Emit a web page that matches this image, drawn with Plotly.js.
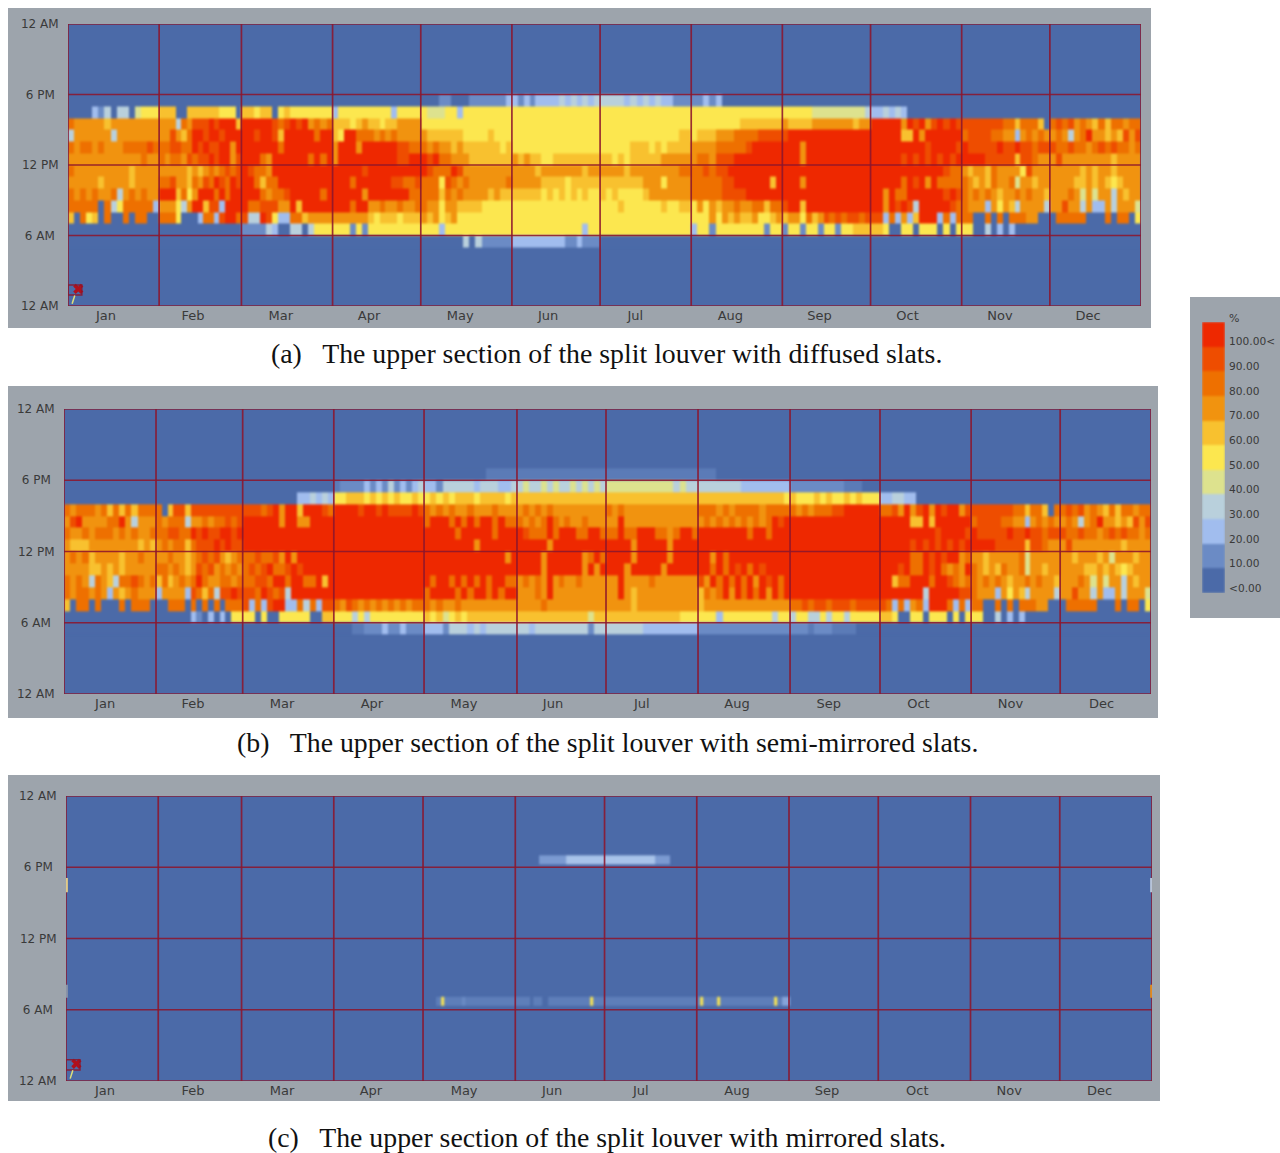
<!DOCTYPE html>
<html><head><meta charset="utf-8">
<script src="https://cdn.plot.ly/plotly-3.0.1.min.js"></script>
<style>html,body{margin:0;padding:0;background:#fff}#c{width:1280px;height:1153px}
#c .heatmaplayer image{filter:blur(0.8px)}</style>
</head><body><div id="c"></div>
<script>
const months=['Jan','Feb','Mar','Apr','May','Jun','Jul','Aug','Sep','Oct','Nov','Dec'];
const monthDays=[31,28,31,30,31,30,31,31,30,31,30,31];
const monthStartsB=[0,30.9,60,90.6,120.9,152.1,182,212.9,243.8,274,304.6,334.5,365];
const monthLabelDayA=[12.9,42.5,72.4,102.4,133.4,163.3,193,225.3,255.6,285.6,317,347];
const monthLabelDayB=[13.8,43.3,73.2,103.4,134.3,164.2,194,226,256.8,286.9,317.8,348.4];
const monthLabelDayC=[13.1,42.7,72.6,102.5,133.8,163.4,193.2,225.5,255.8,286.1,317,347.4];
const hourTicks=[0,6,12,18,24];
const hourLabels=['12 AM','6 AM\u00a0','12 PM','6 PM\u00a0','12 AM'];
const levelColors=['#4b6aa8','#6b8bc5','#a1bdee','#b9d0dc','#dde28e','#fce74f','#f8c12f','#f1930f','#ee7000','#ee4d00','#ee2800'];
const legendLabels=['<0.00','10.00','20.00','30.00','40.00','50.00','60.00','70.00','80.00','90.00','100.00<'];

// Level per cell: 0-9, a = 100 %, f = faint. Each row: 12 month groups, 15 cells per month.
const z0='000000000000000';
const rowsA=[
/*h5*/ `${z0} ${z0} ${z0} ${z0} 000000030311111 222222222112111 ${z0} ${z0} ${z0} ${z0} ${z0} ${z0}`,
/*h6*/ `${z0} ${z0} 111132003303555 555151555555555 555255555555555 555555555555255 555555555555555 255155555555155 155155155155666 665005505550505 550030202000000 ${z0}`,
/*h7*/ `608560800808800 888500028829aa8 933a95228867777 777777656665666 767567555555555 555555555555555 555555555555555 555757676675567 677586798989989 99282726aaa2828 880080808887700 088888000808805`,
/*h8*/ `888880835888882 777537aa6992aaa a8899977a6aaaaa aaa8aa778778778 877577666655555 555555555555555 555655555565566 575767787788688 9aa6aaaaaaaaaaa aa7a9a93aaaaa98 877727576377773 779773722737774`,
/*h9*/ `878787783787877 aaa6857aaa8a8aa aaa87889aaaaa8a aaaaa7aaaaaaa88 888687877776766 666665656565655 656555567777777 888889999aaaaaa aaaaaaaaaaaaaaa aa7a88aaaaaa9a9 878787677878776 777874747737677`,
/*h10*/`777776777767777 8897768798a98a9 aa8688aaaaaaaaa aaa8aaaaaa99889 888598787777778 777776666566666 666666677757777 8888899aaaaaa6a aaa7aaaaaaaaaaa aaaaa8a9a7a8888 876768778477677 777766767656777`,
/*h11*/`877777777767777 777776767878989 a9887aaaaaaaaaa aaaaa9aaaaaaaaa a9888a977777777 777767777777677 777767777777788 889899aaaaaaaaa aaaaaaaaaaaaaaa aaaaaaaaaaaa988 767768777759777 777776767767777`,
/*h12*/`777777777777877 878879899a9aa79 aaa87aaaaaa8a8a 7aaaaaaaaaa99aa a9a887776666666 767665566666666 665656666677777 7887999aaaaaaaa aaa7aaaaaaaaaaa aaaaa9a9a9a9a9a aaaa99999699877 797777777767777`,
/*h13*/`878878777888898 889988a9a99aa7a aaaaaa8aaaaaaaa 7aaa7aaaaaa9988 878776766666656 555555555555555 555556665656666 7777888889aaaaa aaa7aaaaaaaaaaa aaaaaaaaa9aaaa9 a99999a99a99899 988988789898878`,
/*h14*/`377777737777777 779768aa9aa9aaa aa9aa96aaaaa8aa 65aa88878787777 766666655556555 555555555555555 555555555555566 566677788889999 9aaaaaaaaaaaaaa aaaaa66a7aaaaaa 899998877278787 787378a77676979`,
/*h15*/`877777677777777 777387999a9aaa6 aaaaa989a9a7878 666567665667777 555555555555555 555555555555555 555555555555555 555555556666666 766667777777677 aaaaa7a9a79a9a9 999999988688860 898978768688788`,
/*h16*/`000021303304555 666006666665550 665660565555555 255555555525555 544455255555555 555555555555555 555555555555555 555555555555555 555554444444443 223232000000000 ${z0} ${z0}`,
/*h17*/`${z0} ${z0} ${z0} ${z0} 000110001111112 212122223232323 333323232322111 112120000000000 ${z0} ${z0} ${z0} ${z0}`
];
const rowsB=[
/*h5*/ `${z0} ${z0} ${z0} 000ff1112112111 222133323233333 332333333333133 333333222222222 111111111111111 111f111ffff0000 ${z0} ${z0} ${z0}`,
/*h6*/ `${z0} 000000210202055 550500555550066 555353555555555 656456566666666 666666666666466 666666666666555 555255555555355 355335355355555 665005505550505 550030202000000 ${z0}`,
/*h7*/ `608808000808880 008880808080888 92829aa22838299 879878787878788 878778777777777 777787777777777 777767777777777 677777777777777 889899899989999 98282782aaa8282 880080808887700 088888000808805`,
/*h8*/ `878878727678777 2777729868399a9 998a9893aaaaaaa aaaaaaaaaaaaaaa 8aaaa8a8aa8a8aa 77787a777777777 77a767777777777 6878a7a8a8a7a8a aaaaaaaaaaaaaaa aaaaaaa3aaaaa99 877727576377773 779773722737774`,
/*h9*/ `878738763889878 6867878a8778878 88998aa8aa88a6a aaaaaaaaaaaaaaa a8aa8a8a8a8aa88 78787a787787777 77a777787777777 97a8a8a8a7a9a8a aaaaaaaaaaaaaaa aa688aaa8aa9878 878787677878776 777874747737677`,
/*h10*/`777766767677777 887876798978787 8989a889a9aaaaa aaaaaaaaaaaaaaa aaaaaaaaaaaaaaa aaaa7aaaaaa7a7a aaa7aaaaa7aaaaa aa8a8a9a8a9aaaa aaaaaaaaaaaaaaa aaa9a88a9a8787a 876768778477677 777766767656777`,
/*h11*/`787867777677877 778776789897678 8898897a7aaaaaa aaaaaaaaaaaaaaa aaaaaaaaaaaaa7a aaaa7aaaaaa78a8 aaaa7aaaaa7aaaa aa7a8aaaaaaaaaa aaaaaaaaaaaaaaa aaaaa88a9a9aa78 776777778477777 776777674777677`,
/*h12*/`766677777777676 7878868999a9a99 aaaaaaaaaaaaaaa aaaaaaaaaaaaaaa aaaaaaaa7aaaaaa aaaaa7aaaaaaaaa aaaa7aaaaa7aaaa aaaaaaaaaaaaaaa aaaaaaaaaaaaaaa aaaaa9a9a9a9a9a aaaa99999699877 797777777767777`,
/*h13*/`877878887878778 889988a9a99aa9a aaaaaaaaaaaaaaa aaaaaaaaaaaaaaa aaaaa8aaaaa8aaa a9888a8aaa88aa8 88a88aaa8878aa8 aaaaaaaa8aa8aaa aaaaaaaaaaaaaaa aaaaaaaaa9aaaa9 a99999a99a99899 988988789898878`,
/*h14*/`79a777788a73777 878883778788989 aaaaaa7aa77aaaa aaaaaaaaaaaaaaa 8aaa8a8a8aa8a88 87878a878778777 77a777777777777 787878787878a9a aaaaaaaaaaaaaaa aaaaa66a6aaaaaa 899998877278787 787378a77676979`,
/*h15*/`878887868686888 806996999999999 99989a7aa6aaa98 aaaa9aa9a9999a9 878787787778777 787878777777777 878777777777777 888787888878888 878788899aaaaaa 8897a79a7a9aa79 999999988688608 898978768688788`,
/*h16*/`${z0} ${z0} 000000000223232 556665656565565 565656665666656 666666666666666 666666666666666 666666666666665 655565655656555 223322000000000 ${z0} ${z0}`,
/*h17*/`${z0} ${z0} ${z0} f11112121312123 221333332333223 343343433434343 444444444443433 333333322222222 111111111fff000 ${z0} ${z0} ${z0}`,
/*h18*/`${z0} ${z0} ${z0} ${z0} 0000000000fffff fffffffffffffff fffffffffffffff fff000000000000 ${z0} ${z0} ${z0} ${z0}`
];
const hoursA=[5,6,7,8,9,10,11,12,13,14,15,16,17,18];
const hoursB=[5,6,7,8,9,10,11,12,13,14,15,16,17,18,19];
// Panel (c): two thin strips, day edges and hour edges.
const cDayEdges=[124.4,126,127,133,134,156,157,160,162,176,177,213,214,219,220,238,239,240.6,243.5];
const cLowHours=[6.34,7.09];
const cLow =[0.6,5,0.6,1,0.6,0,0.6,0,0.6,5,0.6,5,0.6,5,0.6,5,0.6,1.5];
const cUpperDayEdges=[159,168,198,203];
const cUpperHours=[18.25,19];
const cUpperLevels=[1.3,2.3,1.3];
const captions=['(a)   The upper section of the split louver with diffused slats.','(b)   The upper section of the split louver with semi-mirrored slats.','(c)   The upper section of the split louver with mirrored slats.'];

const W=1280,H=1153;
const xd=(a,b)=>[a/W,b/W], yd=(t,b)=>[1-b/H,1-t/H];
const lv=c=>c==='f'?0.5:parseInt(c,16);
const cs=levelColors.map((c,i)=>[i/10,c]);
let starts=[0];monthDays.forEach(d=>starts.push(starts[starts.length-1]+d));
const cellEdges=st=>{const e=[];for(let m=0;m<12;m++)for(let k=0;k<15;k++)e.push(st[m]+(st[m+1]-st[m])*k/15);e.push(365);return e;};
function parseRow(s){
  const out=[];
  s.trim().split(/\s+/).slice(0,12).forEach(g=>{
    const t=g.padEnd(15,g[g.length-1]).slice(0,15);
    for(const c of t)out.push(lv(c));
  });
  return out;
}
const hm=(x,y,z,xa,ya)=>({type:'heatmap',x,y,z,xaxis:xa,yaxis:ya,colorscale:cs,zmin:0,zmax:10,showscale:false,hoverinfo:'skip',zsmooth:false});
const traces=[
  hm(cellEdges(starts),hoursA,rowsA.map(parseRow),'x','y'),
  hm(cellEdges(monthStartsB),hoursB,rowsB.map(parseRow),'x2','y2'),
  hm(cDayEdges,cLowHours,[cLow],'x3','y3'),
  hm(cUpperDayEdges,cUpperHours,[cUpperLevels],'x3','y3'),
  hm([0,1],[0,1,2,3,4,5,6,7,8,9,10,11],levelColors.map((c,i)=>[i]),'x4','y4')
];
const markDay=[3.5],markHour=[1.45];
[['x','y'],['x3','y3']].forEach(([a,b])=>traces.push({type:'scatter',mode:'markers',x:markDay,y:markHour,xaxis:a,yaxis:b,hoverinfo:'skip',showlegend:false,
  marker:{symbol:'x',size:9,color:'#b0101c',line:{width:0}}}));

const panels=[
 {x:'x',y:'y',px:[68,1141],py:[24,306],bg:[8,8,1151,328],cap:[269,353.5],st:starts,lab:monthLabelDayA},
 {x:'x2',y:'y2',px:[64,1151],py:[409,694],bg:[8,386,1158,718],cap:[235,742.5],st:monthStartsB,lab:monthLabelDayB},
 {x:'x3',y:'y3',px:[66,1152],py:[796,1081],bg:[8,775,1160,1101],cap:[266,1137.5],st:starts,lab:monthLabelDayC}
];
const layout={width:W,height:H,margin:{l:0,r:0,t:0,b:0},paper_bgcolor:'#fff',plot_bgcolor:levelColors[0],showlegend:false,shapes:[],annotations:[]};
const font={family:'"DejaVu Sans",sans-serif',size:12,color:'#3a3a3a'};
const monthFont={family:font.family,size:13,color:'#3a3a3a'};
const gridCol='rgba(140,22,44,0.88)';
panels.forEach((p,i)=>{
  const sx=i?String(i+1):'';
  layout['xaxis'+sx]={domain:xd(...p.px),range:[0,365],anchor:p.y,tickmode:'array',tickvals:p.lab,ticktext:months,ticks:'',showgrid:false,zeroline:false,tickfont:monthFont,showline:false,fixedrange:true};
  layout['yaxis'+sx]={domain:yd(...p.py),range:[0,24],anchor:p.x,tickmode:'array',tickvals:hourTicks,ticktext:hourLabels,ticks:'outside',ticklen:6,tickcolor:'rgba(0,0,0,0)',showgrid:false,zeroline:false,tickfont:font,showline:false,fixedrange:true};
  layout.shapes.push({type:'rect',xref:'paper',yref:'paper',x0:p.bg[0]/W,x1:p.bg[2]/W,y0:1-p.bg[3]/H,y1:1-p.bg[1]/H,fillcolor:'#9da4ac',line:{width:0},layer:'below'});
  layout.shapes.push({type:'rect',xref:p.x,yref:p.y,x0:0,x1:365,y0:0,y1:24,fillcolor:levelColors[0],line:{width:0},layer:'below'});
  const line=(x0,x1,y0,y1,col,w)=>layout.shapes.push({type:'line',xref:p.x,yref:p.y,x0,x1,y0,y1,line:{color:col||gridCol,width:w||1.7},layer:'above'});
  p.st.forEach(d=>line(d,d,0,24));
  hourTicks.forEach(h=>line(0,365,h,h));
  layout.annotations.push({xref:'paper',yref:'paper',x:p.cap[0]/W,y:1-p.cap[1]/H,xanchor:'left',yanchor:'middle',showarrow:false,text:captions[i],font:{family:'"Liberation Serif",serif',size:27.8,color:'#111'}});
  if(i!==1){
    layout.shapes.push({type:'rect',xref:p.x,yref:p.y,x0:0,x1:4.7,y0:0.93,y1:1.79,line:{color:gridCol,width:1.5},fillcolor:'rgba(0,0,0,0)',layer:'above'});
    line(1.4,2.3,0.2,0.9,'#dfe07a',1.5);
  }
  if(i===2){
    line(0.3,0.3,15.9,17.1,'#e0c98a',2);
    line(364.7,364.7,15.9,17.1,'#b8c4d8',2);
    line(364.7,364.7,7,8.1,'#e08a20',2);
    line(0.3,0.3,7,8.1,'#8a93a8',2);
  }
});
layout.shapes.push({type:'rect',xref:'paper',yref:'paper',x0:1190/W,x1:1,y0:1-618/H,y1:1-297/H,fillcolor:'#9da4ac',line:{width:0},layer:'below'});
layout.xaxis4={domain:xd(1202,1225),range:[0,1],anchor:'y4',showticklabels:false,ticks:'',showgrid:false,zeroline:false,fixedrange:true};
layout.yaxis4={domain:yd(322,593),range:[0,11],anchor:'x4',side:'right',tickmode:'array',tickvals:legendLabels.map((_,i)=>i+0.2),ticktext:legendLabels,ticks:'outside',ticklen:1,tickcolor:'rgba(0,0,0,0)',showgrid:false,zeroline:false,fixedrange:true,tickfont:{family:font.family,size:10.6,color:'#3a3a3a'}};
layout.annotations.push({xref:'paper',yref:'paper',x:1227/W,y:1-318/H,xanchor:'left',yanchor:'middle',showarrow:false,text:'%',font:{family:font.family,size:11,color:'#3a3a3a'}});
Plotly.newPlot('c',traces,layout,{staticPlot:true,displayModeBar:false});
</script></body></html>
